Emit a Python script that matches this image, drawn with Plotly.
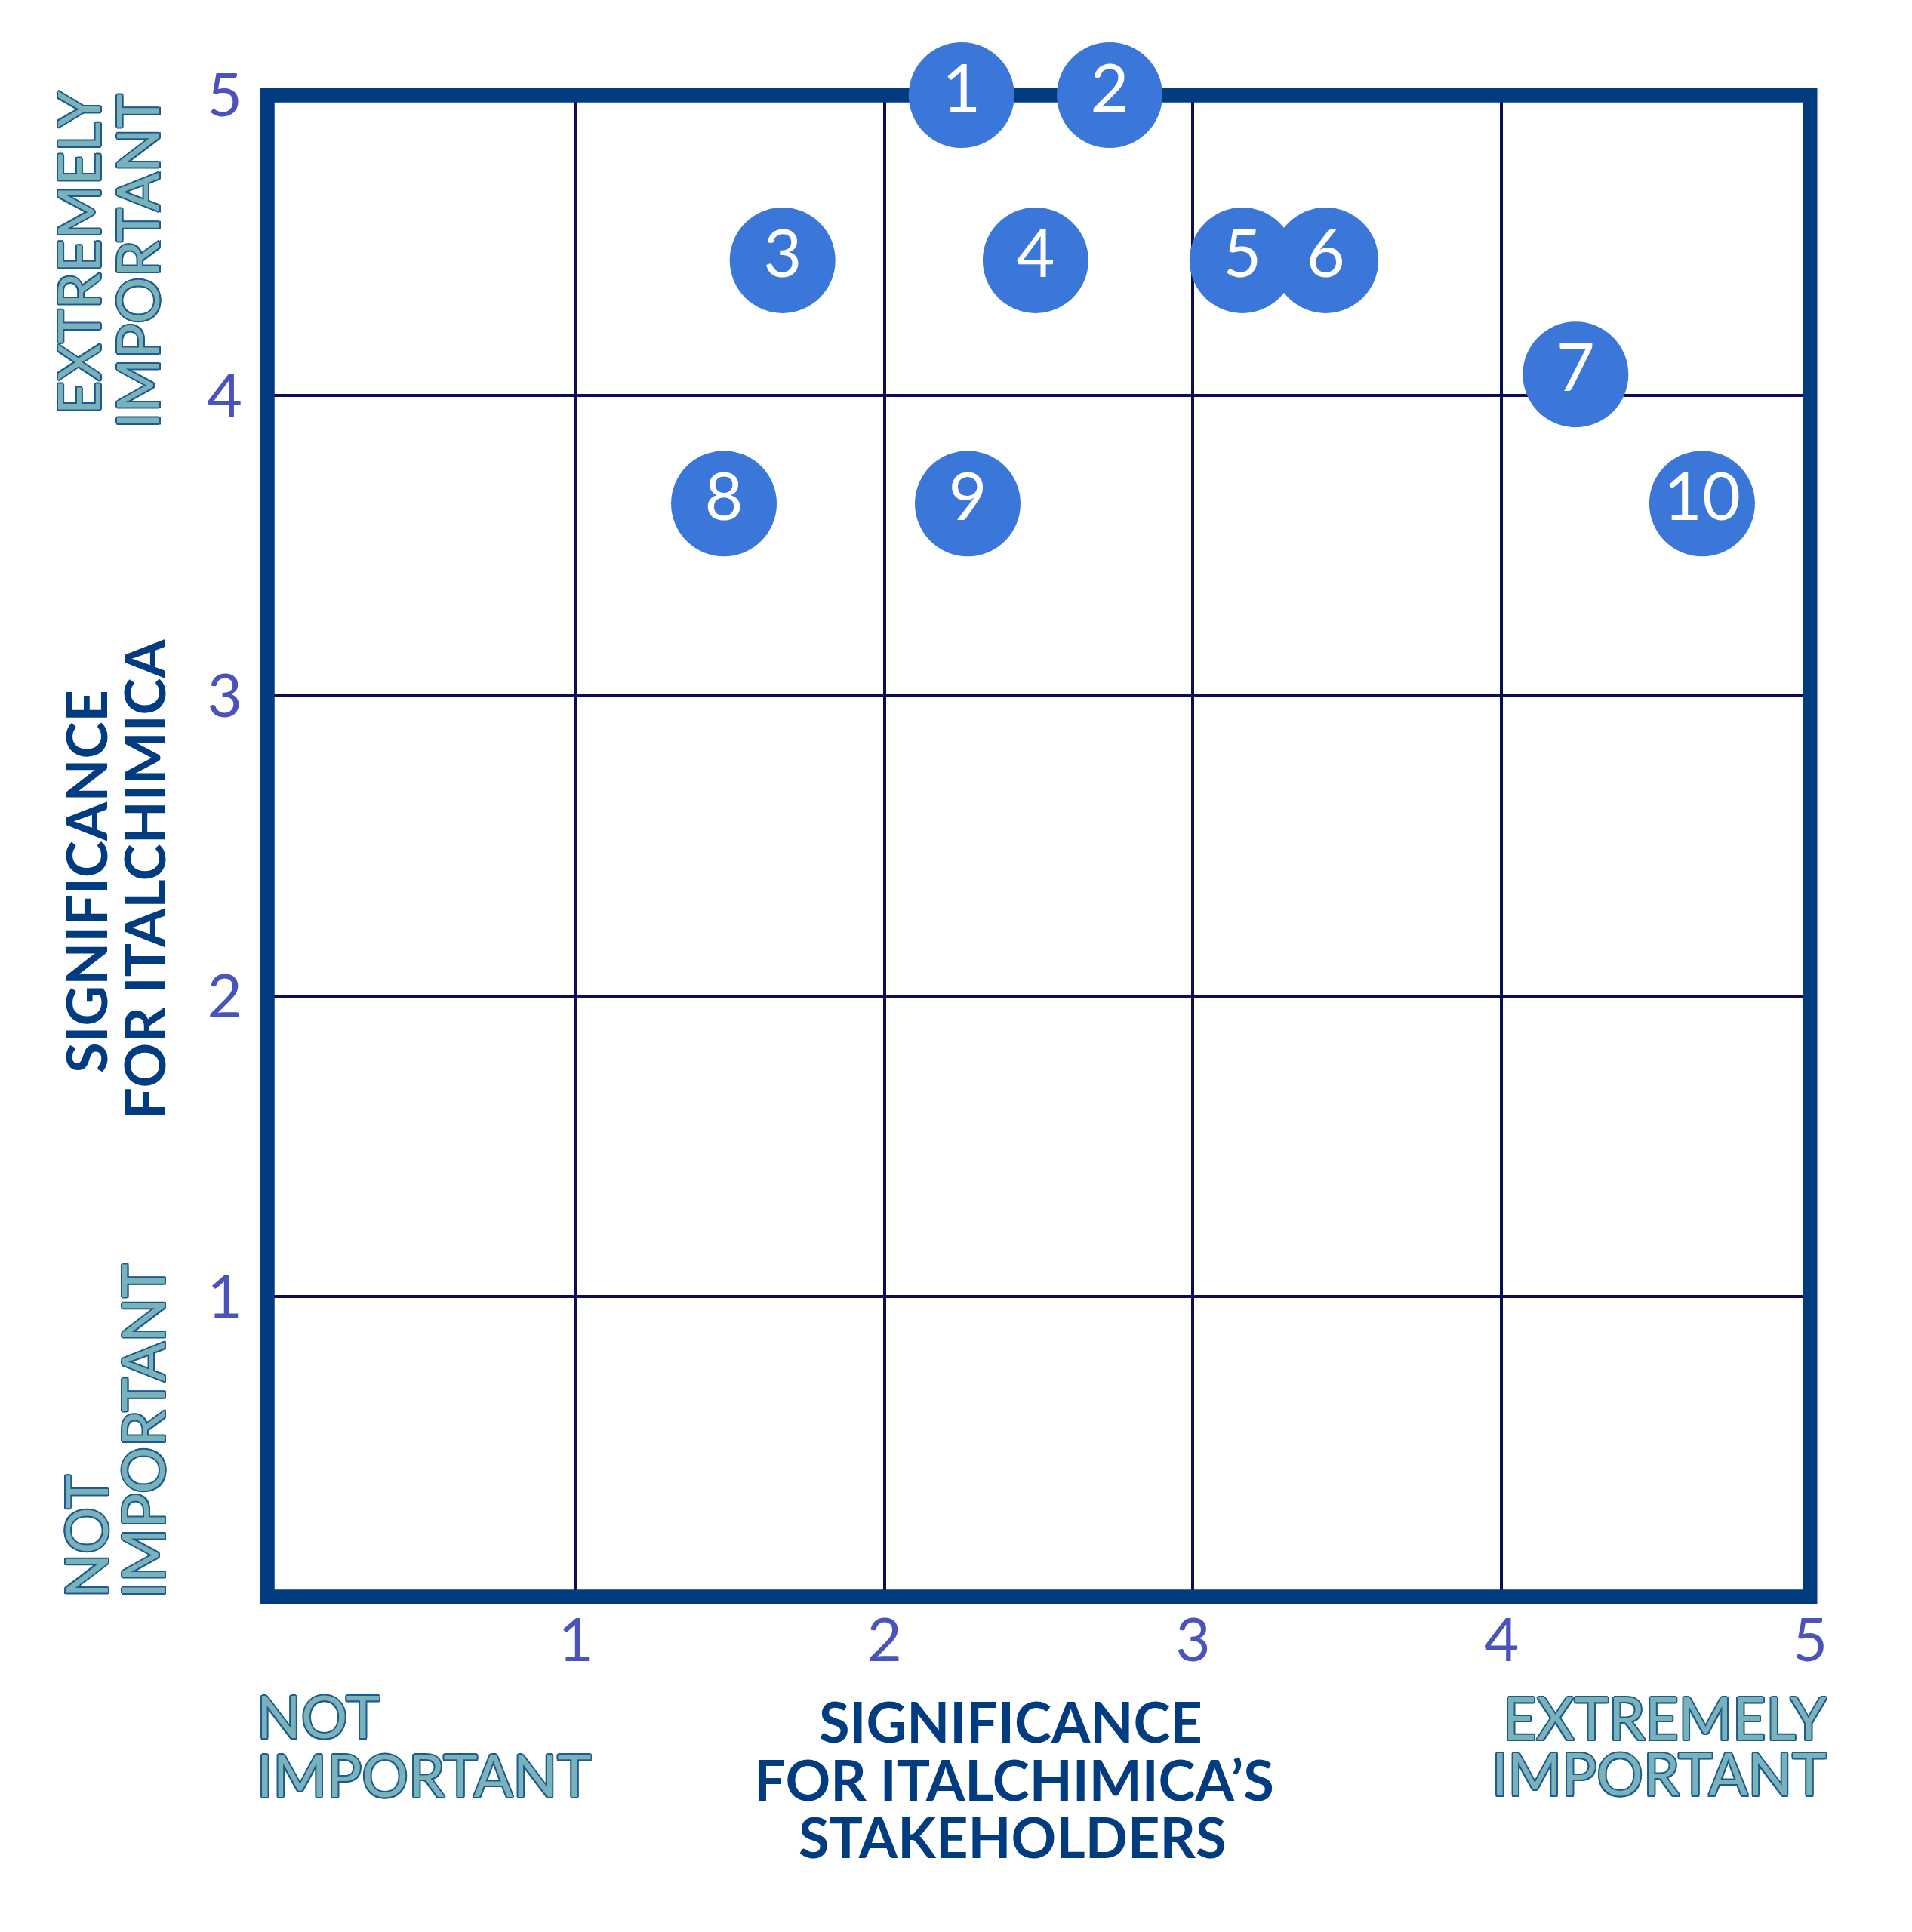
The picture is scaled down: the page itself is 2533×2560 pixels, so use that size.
"""Materiality matrix: significance for Italchimica vs. its stakeholders."""

import plotly.graph_objects as go

# --- data -----------------------------------------------------------------
topic_ids = ["1", "2", "3", "4", "5", "6", "7", "8", "9", "10"]
stakeholder_score = [2.25, 2.73, 1.67, 2.49, 3.16, 3.43, 4.24, 1.48, 2.27, 4.65]
company_score = [5.0, 5.0, 4.45, 4.45, 4.45, 4.45, 4.07, 3.64, 3.64, 3.64]

tick_vals = [1, 2, 3, 4, 5]
tick_text = ["1", "2", "3", "4", "5"]

x_title = ["SIGNIFICANCE", "FOR ITALCHIMICA\u2019S", "STAKEHOLDERS"]
y_title = ["SIGNIFICANCE", "FOR ITALCHIMICA"]
low_label = ["NOT", "IMPORTANT"]
high_label = ["EXTREMELY", "IMPORTANT"]

# --- style ----------------------------------------------------------------
W, H = 2533, 2560
PX_L, PX_R, PX_T, PX_B = 346, 2390, 118, 2108

FONT = "Lato"
NAVY = "#013b80"
GRID = "#0d0d56"
TICK = "#4a52bc"
BUBBLE = "#3b76d9"
TEAL = "#79b3b9"
OUTLINE = "#1d5a92"
FRAME_W = 19

outline = ", ".join(
    f"{dx}px {dy}px 0 {OUTLINE}"
    for dx, dy in [(2, 0), (-2, 0), (0, 2), (0, -2), (1.5, 1.5), (-1.5, 1.5), (1.5, -1.5), (-1.5, -1.5)]
)


def px(x):
    return (x - PX_L) / (PX_R - PX_L)


def py(y):
    return (PX_B - y) / (PX_B - PX_T)


fig = go.Figure()

fig.add_trace(
    go.Scatter(
        x=stakeholder_score,
        y=company_score,
        mode="markers+text",
        text=topic_ids,
        textposition="middle center",
        textfont=dict(family=FONT, size=88, color="white"),
        marker=dict(size=140, color=BUBBLE, line=dict(width=0), opacity=1),
        cliponaxis=False,
        hoverinfo="skip",
        showlegend=False,
    )
)

# outer frame: full width under everything, plus the inner half over the grid
fig.add_shape(
    type="rect", xref="paper", yref="paper", x0=0, x1=1, y0=0, y1=1,
    line=dict(color=NAVY, width=FRAME_W), layer="below",
)
fig.add_shape(
    type="rect", xref="x", yref="y", x0=0, x1=5, y0=0, y1=5,
    line=dict(color=NAVY, width=FRAME_W), layer="between",
)

ann = []


def label(text, x, y, xanchor, yanchor, angle=0, bold=False, teal=False, size=77, box_h=None):
    font = dict(family=FONT, size=size, color=NAVY, weight=700 if bold else 400)
    if teal:
        font["color"] = TEAL
        font["shadow"] = outline
    a = dict(
        text=text, x=px(x), y=py(y), xref="paper", yref="paper",
        xanchor=xanchor, yanchor=yanchor, textangle=angle,
        showarrow=False, font=font, borderpad=0,
    )
    if box_h:
        a["height"] = box_h
    ann.append(a)


# x axis captions (stacked lines, tight leading)
label(x_title[0], 1331, 2272, "center", "middle", bold=True, size=74, box_h=72)
label(x_title[1], 1335, 2349, "center", "middle", bold=True, size=74, box_h=72)
label(x_title[2], 1333, 2425, "center", "middle", bold=True, size=74, box_h=72)
label(low_label[0], 331, 2265, "left", "middle", teal=True, box_h=74)
label(low_label[1], 331, 2343, "left", "middle", teal=True, box_h=74)
label(high_label[0], 2413, 2267, "right", "middle", teal=True, box_h=72)
label(high_label[1], 2413, 2341, "right", "middle", teal=True, box_h=72)

# y axis captions
label(y_title[0], 105, 1160, "center", "middle", angle=-90, bold=True, size=74)
label(y_title[1], 183, 1157, "center", "middle", angle=-90, bold=True, size=74)
label(high_label[0], 95, 112, "center", "top", angle=-90, teal=True)
label(high_label[1], 173, 115, "center", "top", angle=-90, teal=True)
label(low_label[0], 104, 2111, "center", "bottom", angle=-90, teal=True)
label(low_label[1], 180, 2111, "center", "bottom", angle=-90, teal=True)

axis = dict(
    range=[0, 5],
    tickvals=tick_vals,
    ticktext=tick_text,
    showgrid=True,
    gridcolor=GRID,
    gridwidth=4,
    zeroline=False,
    showline=False,
    ticks="",
    tickfont=dict(family=FONT, size=80, color=TICK),
    fixedrange=True,
)

fig.update_layout(
    width=W,
    height=H,
    margin=dict(l=PX_L, r=W - PX_R, t=PX_T, b=H - PX_B, pad=0),
    paper_bgcolor="white",
    plot_bgcolor="rgba(0,0,0,0)",
    xaxis=dict(axis, ticklabelstandoff=4),
    yaxis=dict(axis, ticklabelstandoff=32),
    annotations=ann,
    showlegend=False,
)

fig.write_html("out.html")
